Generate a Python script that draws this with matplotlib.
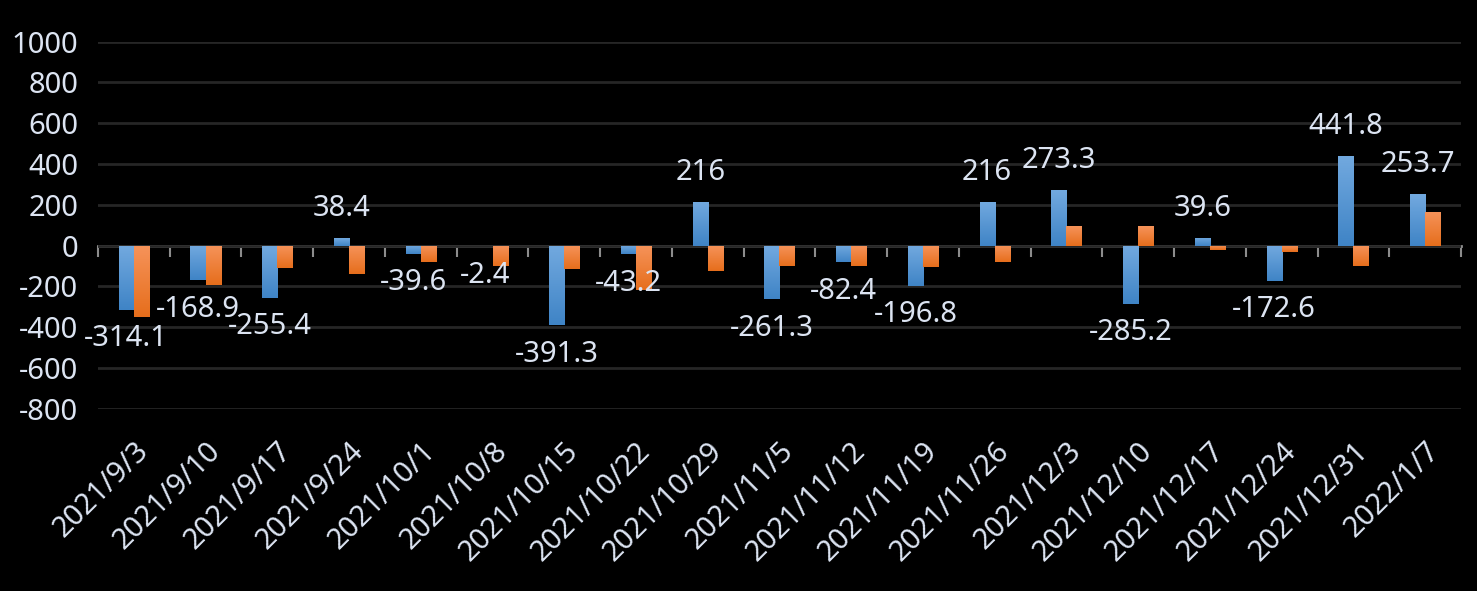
import numpy as np
import matplotlib
matplotlib.use("Agg")
import matplotlib.pyplot as plt
from matplotlib.colors import LinearSegmentedColormap

# ── data ─────────────────────────────────────────────────────────────────────
dates = ["2021/9/3", "2021/9/10", "2021/9/17", "2021/9/24", "2021/10/1",
         "2021/10/8", "2021/10/15", "2021/10/22", "2021/10/29", "2021/11/5",
         "2021/11/12", "2021/11/19", "2021/11/26", "2021/12/3", "2021/12/10",
         "2021/12/17", "2021/12/24", "2021/12/31", "2022/1/7"]
blue_vals = [-314.1, -168.9, -255.4, 38.4, -39.6, -2.4, -391.3, -43.2, 216,
             -261.3, -82.4, -196.8, 216, 273.3, -285.2, 39.6, -172.6, 441.8,
             253.7]
orange_vals = [-351, -194, -111, -141, -82, -101, -116, -216, -126, -101,
               -101, -106, -82, 98, 98, -23, -33, -101, 167]
yticks = [-800, -600, -400, -200, 0, 200, 400, 600, 800, 1000]

# ── style ────────────────────────────────────────────────────────────────────
BG = "#000000"
TXT = "#DCE4F2"
GRID = "#262626"
ZERO = "#8C8C8C"
BLUE_TOP, BLUE_BOT = "#72A9DF", "#3F84C6"
ORNG_TOP, ORNG_BOT = "#F6935A", "#E66E1C"
FONT = ["Noto Sans", "DejaVu Sans"]
BAR_W = 0.21

plt.rcParams["axes.unicode_minus"] = False

fig = plt.figure(figsize=(14.77, 5.91), dpi=100)
fig.patch.set_facecolor(BG)
ax = fig.add_axes([0.0663, 0.3085, 0.9229, 0.6209])
ax.set_facecolor(BG)

x = np.arange(len(dates))


def gradient_bars(bars, top, bot):
    cmap = LinearSegmentedColormap.from_list("g", [bot, top])
    grad = np.linspace(0, 1, 64).reshape(-1, 1)
    for b in bars:
        x0, y0 = b.get_x(), b.get_y()
        w, h = b.get_width(), b.get_height()
        lo, hi = min(y0, y0 + h), max(y0, y0 + h)
        im = ax.imshow(grad, cmap=cmap, origin="lower", aspect="auto",
                       extent=(x0, x0 + w, lo, hi), zorder=3,
                       interpolation="bilinear")
        im.set_clip_path(b)
        b.set_facecolor("none")


bars_b = ax.bar(x - BAR_W / 2, blue_vals, BAR_W, color=BLUE_BOT, zorder=3,
                linewidth=0)
bars_o = ax.bar(x + BAR_W / 2, orange_vals, BAR_W, color=ORNG_BOT, zorder=3,
                linewidth=0)
gradient_bars(bars_b, BLUE_TOP, BLUE_BOT)
gradient_bars(bars_o, ORNG_TOP, ORNG_BOT)
ax.set_xlim(-0.5, len(dates) - 0.5)
ax.set_ylim(-800, 1000)

# value labels on blue series
for xi, v in zip(x, blue_vals):
    off = 21 if v >= 0 else -21
    ax.annotate(f"{v:g}", xy=(xi - BAR_W / 2, v), xytext=(0, off),
                textcoords="offset points", ha="center", va="center",
                color=TXT, fontsize=21, family=FONT, zorder=5)

# grid + axes
ax.set_yticks(yticks)
ax.yaxis.grid(True, color=GRID, linewidth=2, zorder=0)
ax.set_axisbelow(True)
for s in ax.spines.values():
    s.set_visible(False)
ax.tick_params(axis="y", length=0, pad=14, labelcolor=TXT, labelsize=21)
ax.tick_params(axis="x", length=0, pad=20, labelcolor=TXT, labelsize=21)
ax.set_xticks(x)
ax.set_xticklabels(dates, rotation=45, ha="right", va="top",
                   rotation_mode="anchor", family=FONT)
for lab in ax.get_yticklabels():
    lab.set_family(FONT)

# zero axis line with category-boundary ticks
zero_frac = (0 - (-800)) / (1000 - (-800))
sec = ax.secondary_xaxis(zero_frac)
sec.spines["bottom"].set_color(ZERO)
sec.spines["bottom"].set_linewidth(2)
sec.set_xticks(np.arange(len(dates) + 1) - 0.5)
sec.tick_params(axis="x", direction="out", length=8, width=1.5, color=ZERO,
                labelbottom=False)
sec.spines["bottom"].set_zorder(4)

fig.savefig("out.png", dpi=100, facecolor=BG)
